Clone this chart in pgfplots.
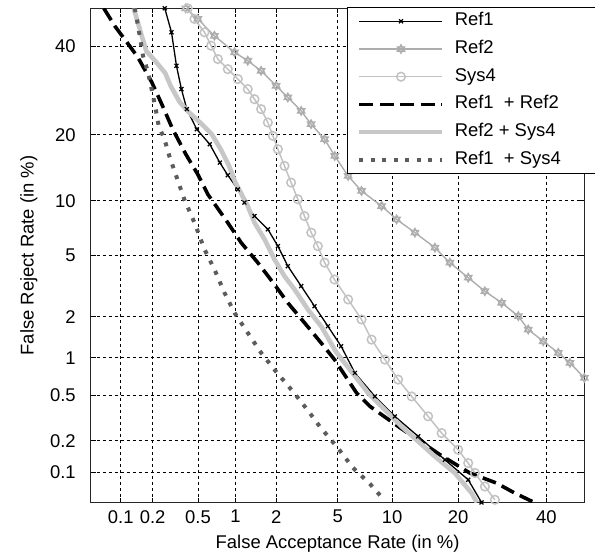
\documentclass[border=0pt]{standalone}
\usepackage{pgfplots}
\pgfplotsset{compat=1.18}
\usepackage{fontspec}
\setmainfont{Liberation Sans}
\usetikzlibrary{plotmarks}

% six-pointed star (two stroked triangles)
\pgfdeclareplotmark{hexagram}{%
  \pgfpathmoveto{\pgfpointpolar{90}{\pgfplotmarksize}}%
  \pgfpathlineto{\pgfpointpolar{210}{\pgfplotmarksize}}%
  \pgfpathlineto{\pgfpointpolar{330}{\pgfplotmarksize}}%
  \pgfpathclose
  \pgfpathmoveto{\pgfpointpolar{270}{\pgfplotmarksize}}%
  \pgfpathlineto{\pgfpointpolar{30}{\pgfplotmarksize}}%
  \pgfpathlineto{\pgfpointpolar{150}{\pgfplotmarksize}}%
  \pgfpathclose
  \pgfusepathqstroke
}

\definecolor{refgray}{gray}{0.68}
\definecolor{sysgray}{gray}{0.76}
\definecolor{fusegray}{gray}{0.78}
\definecolor{dotgray}{gray}{0.36}

\newcommand{\lbox}[1]{\makebox[134bp][l]{#1}}
\newcommand{\chartfont}{\fontsize{18.5}{20}\selectfont}

% DET curves; both axes are normal deviates (probit of the error rate)
\begin{document}
\begin{tikzpicture}
\path[use as bounding box] (0,0) rectangle (595bp,555bp);
\begin{axis}[
  at={(90.7bp,52.3bp)}, anchor=south west,
  scale only axis, width=493.8bp, height=494.4bp,
  xmin=-3.2905, xmax=0, ymin=-3.2905, ymax=0,
  xtick={-3.0902,-2.8782,-2.5758,-2.3263,-2.0537,-1.6449,-1.2816,-0.8416,-0.2533},
  xticklabels={0.1,0.2,0.5,1,2,5,10,20,40},
  ytick={-3.0902,-2.8782,-2.5758,-2.3263,-2.0537,-1.6449,-1.2816,-0.8416,-0.2533},
  yticklabels={0.1,0.2,0.5,1,2,5,10,20,40},
  grid=major,
  grid style={black, line width=0.8bp, dash pattern=on 3bp off 3bp},
  tick align=inside, major tick length=5bp,
  tick style={black, line width=0.8bp},
  axis line style={black!85, line width=1.1bp},
  tick label style={font=\chartfont},
  xticklabel style={yshift=-4bp},
  yticklabel style={xshift=-11.5bp},
  label style={font=\chartfont},
  xlabel={False Acceptance Rate (in \%)},
  ylabel={False Reject Rate (in \%)},
  xlabel style={at={(axis description cs:0.5,0)}, anchor=base, yshift=-45.5bp},
  ylabel style={at={(axis description cs:-0.1154,0.5)}, anchor=base},
  legend cell align=left,
  legend image code/.code={\draw[mark repeat=2,mark phase=2,#1] plot coordinates {(0bp,0bp) (41.5bp,0bp) (83bp,0bp)};},
  legend style={at={(axis description cs:0.5184,1.0027)}, anchor=north west,
    draw=black, line width=1bp, fill=white,
    inner xsep=10bp, inner ysep=0bp, font=\chartfont,
    nodes={inner xsep=0bp, inner ysep=4.85bp, text height=13.5bp, text depth=4.5bp},
    /tikz/every odd column/.append style={column sep=10bp}},
]

% Ref1
\addplot[black, line width=1.3bp, mark=x, mark size=2.8bp, mark options={solid, line width=1.2bp}] coordinates {
(-2.797,0) (-2.752,-0.160) (-2.719,-0.383) (-2.686,-0.538) (-2.650,-0.671)
(-2.584,-0.805) (-2.497,-0.905) (-2.430,-1.027) (-2.377,-1.111) (-2.310,-1.205)
(-2.266,-1.293) (-2.199,-1.383) (-2.110,-1.471) (-2.043,-1.583) (-1.977,-1.716)
(-1.888,-1.849) (-1.799,-1.983) (-1.710,-2.116) (-1.622,-2.249) (-1.530,-2.427)
(-1.397,-2.583) (-1.264,-2.716) (-1.108,-2.849) (-0.930,-3.005) (-0.775,-3.138)
(-0.686,-3.289)
};
\addlegendentry{\lbox{Ref1}}

% Ref2
\addplot[refgray, line width=1.4bp, mark=hexagram, mark size=4.2bp, mark options={solid, line width=1.3bp}] coordinates {
(-2.657,0) (-2.577,-0.071) (-2.466,-0.183) (-2.332,-0.293) (-2.244,-0.349)
(-2.155,-0.416) (-2.055,-0.516) (-1.977,-0.593) (-1.888,-0.683) (-1.822,-0.771)
(-1.732,-0.871) (-1.664,-0.983) (-1.575,-1.116) (-1.486,-1.216) (-1.352,-1.316)
(-1.252,-1.405) (-1.130,-1.493) (-0.997,-1.593) (-0.897,-1.693) (-0.775,-1.793)
(-0.664,-1.883) (-0.552,-1.960) (-0.441,-2.049) (-0.375,-2.138) (-0.275,-2.216)
(-0.175,-2.293) (-0.097,-2.360) (-0.001,-2.460)
};
\addlegendentry{\lbox{Ref2}}

% Sys4
\addplot[sysgray, line width=1.5bp, mark=o, mark size=4.3bp, mark options={solid, line width=1.5bp}] coordinates {
(-2.644,0) (-2.599,-0.071) (-2.532,-0.160) (-2.488,-0.249) (-2.443,-0.338)
(-2.377,-0.405) (-2.310,-0.471) (-2.244,-0.538) (-2.199,-0.605) (-2.155,-0.671)
(-2.110,-0.760) (-2.077,-0.849) (-2.043,-0.938) (-1.999,-1.049) (-1.955,-1.160)
(-1.910,-1.271) (-1.866,-1.383) (-1.821,-1.493) (-1.777,-1.583) (-1.732,-1.693)
(-1.666,-1.805) (-1.575,-1.938) (-1.486,-2.071) (-1.419,-2.205) (-1.330,-2.338)
(-1.242,-2.471) (-1.152,-2.583) (-1.042,-2.716) (-0.952,-2.827) (-0.842,-2.938)
(-0.775,-3.027) (-0.730,-3.093) (-0.664,-3.183) (-0.597,-3.271)
};
\addlegendentry{\lbox{Sys4}}

% Ref1 + Ref2
\addplot[black, line width=3.6bp, dash pattern=on 14bp off 6.5bp] coordinates {
(-3.203,0) (-3.130,-0.118) (-3.050,-0.225) (-2.977,-0.325) (-2.884,-0.491)
(-2.817,-0.638) (-2.744,-0.805) (-2.657,-0.971) (-2.577,-1.105) (-2.510,-1.238)
(-2.377,-1.427) (-2.288,-1.560) (-2.177,-1.693) (-2.066,-1.838) (-1.977,-1.960)
(-1.866,-2.093) (-1.755,-2.227) (-1.666,-2.338) (-1.519,-2.560) (-1.430,-2.649)
(-1.230,-2.791) (-0.963,-2.971) (-0.764,-3.093) (-0.586,-3.160) (-0.464,-3.227)
(-0.330,-3.291)
};
\addlegendentry{\lbox{Ref1 \ + Ref2}}

% Ref2 + Sys4
\addplot[fusegray, line width=4.6bp] coordinates {
(-3.004,0) (-2.960,-0.151) (-2.920,-0.285) (-2.860,-0.351) (-2.794,-0.431)
(-2.757,-0.518) (-2.697,-0.625) (-2.637,-0.691) (-2.550,-0.771) (-2.484,-0.838)
(-2.424,-0.938) (-2.370,-1.045) (-2.327,-1.158) (-2.244,-1.316) (-2.199,-1.427)
(-2.132,-1.538) (-2.066,-1.671) (-1.999,-1.783) (-1.932,-1.871) (-1.843,-2.005)
(-1.755,-2.116) (-1.657,-2.285) (-1.442,-2.560) (-1.219,-2.783) (-0.997,-2.983)
(-0.864,-3.093) (-0.752,-3.227) (-0.717,-3.289)
};
\addlegendentry{\lbox{Ref2 + Sys4}}

% Ref1 + Sys4
\addplot[dotgray, line width=4bp, line cap=butt, dash pattern=on 4bp off 7.5bp] coordinates {
(-2.997,0) (-2.975,-0.116) (-2.942,-0.316) (-2.908,-0.427) (-2.880,-0.560)
(-2.857,-0.671) (-2.837,-0.785) (-2.799,-0.871) (-2.766,-0.985) (-2.720,-1.118)
(-2.667,-1.271) (-2.599,-1.427) (-2.532,-1.605) (-2.466,-1.738) (-2.399,-1.893)
(-2.332,-2.027) (-2.244,-2.160) (-2.155,-2.293) (-2.057,-2.416) (-1.926,-2.571)
(-1.837,-2.685) (-1.763,-2.785) (-1.652,-2.916) (-1.543,-3.058) (-1.430,-3.165)
(-1.330,-3.278)
};
\addlegendentry{\lbox{Ref1 \ + Sys4}}

\end{axis}
\end{tikzpicture}
\end{document}
